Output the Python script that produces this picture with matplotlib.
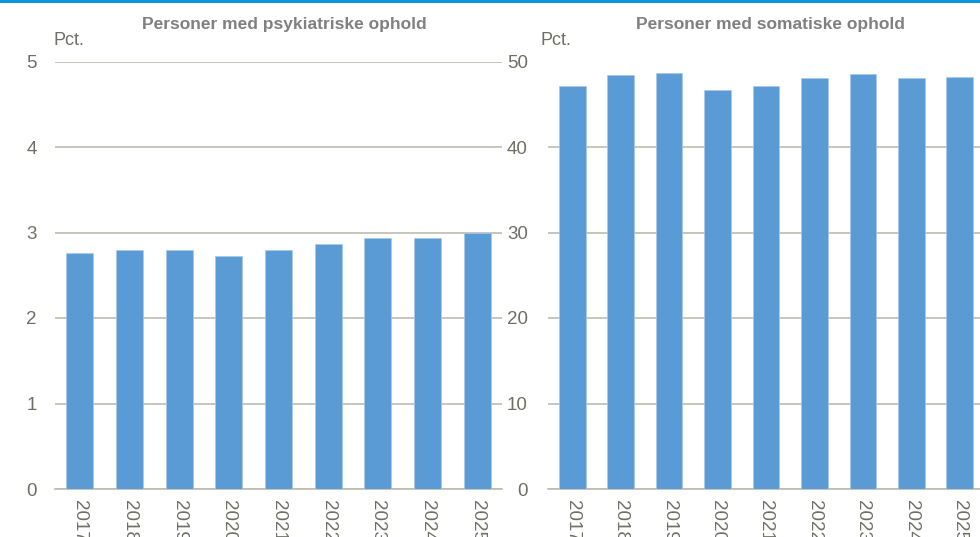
import matplotlib.pyplot as plt
from matplotlib.lines import Line2D

# Data
years = ["2017", "2018", "2019", "2020", "2021", "2022", "2023", "2024", "2025"]
psyk = [2.76, 2.79, 2.80, 2.72, 2.80, 2.87, 2.93, 2.93, 3.00]
somatisk = [47.1, 48.4, 48.7, 46.7, 47.1, 48.05, 48.5, 48.05, 48.2]

titles = ["Personer med psykiatriske ophold", "Personer med somatiske ophold"]
yticks_left = [0, 1, 2, 3, 4, 5]
yticks_right = [0, 10, 20, 30, 40, 50]

BAR = "#5b9bd5"
GRID = "#bdbcae"
TXT = "#6f6f66"
TITLE = "#808080"
FONT = ["Liberation Sans", "DejaVu Sans"]

fig = plt.figure(figsize=(9.8, 5.37), dpi=100)

# top blue rule
fig.add_artist(Line2D([0, 1], [0.998, 0.998], transform=fig.transFigure,
                      color="#0a96d8", lw=2.2))

bottom = (537 - 489) / 537
height = (489 - 61.5) / 537
ax1 = fig.add_axes([55 / 980, bottom, 447 / 980, height])
ax2 = fig.add_axes([548 / 980, bottom, 436 / 980, height])

panels = [(ax1, psyk, yticks_left, 5), (ax2, somatisk, yticks_right, 50)]
title_x = [0.5 + 6 / 447, 0.5 + 4 / 436]
for i, (ax, vals, yt, ymax) in enumerate(panels):
    x = list(range(len(years)))
    ax.bar(x, vals, width=0.55, color=BAR, edgecolor="#a9c8ea", linewidth=0.5, zorder=3)
    ax.set_xlim(-0.5, len(years) - 0.5)
    ax.set_ylim(0, ymax)
    ax.set_yticks(yt)
    ax.set_xticks(x)
    ax.set_xticklabels(years, rotation=-90, va="top", ha="center")
    ax.grid(axis="y", color=GRID, lw=1.2, zorder=0)
    for s in ["top", "right", "left"]:
        ax.spines[s].set_visible(False)
    ax.spines["bottom"].set_color(GRID)
    ax.spines["bottom"].set_linewidth(1.2)
    ax.tick_params(axis="both", length=0, labelcolor=TXT, labelsize=13.5)
    ax.tick_params(axis="y", pad=13 if i == 0 else 14.5)
    ax.tick_params(axis="x", pad=8)
    for lab in ax.get_xticklabels() + ax.get_yticklabels():
        lab.set_family(FONT)
    ax.text(title_x[i], 1.0 + 37 / 427.5, titles[i], transform=ax.transAxes, ha="center",
            va="center", fontsize=12.5, fontweight="bold", color=TITLE, family=FONT)
    ax.text(-2 / 447 if i == 0 else -8 / 436, 1.0 + 21 / 427.5, "Pct.",
            transform=ax.transAxes, ha="left", va="center", fontsize=13,
            color=TXT, family=FONT)

fig.savefig("out.png", dpi=100)
